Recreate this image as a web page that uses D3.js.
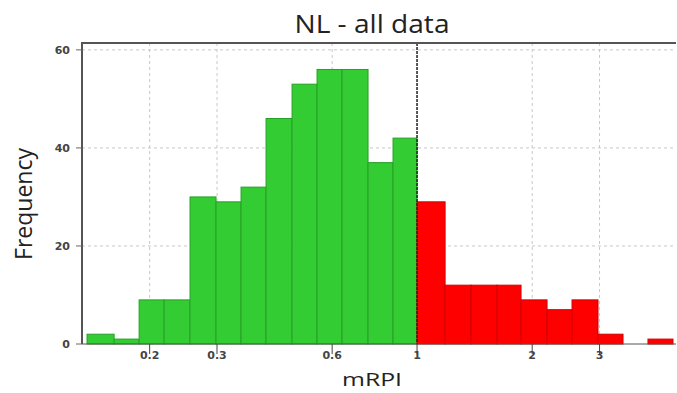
<!DOCTYPE html>
<html lang="en">
<head>
  <meta charset="UTF-8">
  <title>NL - all data</title>
  <script src="https://d3js.org/d3.v7.min.js"></script>
  <style>
    body {
      margin: 0;
      background: #fff;
      font-family: "Open Sans", sans-serif;
    }
    .tick-label {
      font-family: "DejaVu Sans", sans-serif;
      font-size: 11px;
      font-weight: bold;
      fill: #444;
    }
    .grid line {
      stroke: #c8c8c8;
      stroke-dasharray: 3,3;
    }
  </style>
</head>
<body>
  <svg id="chart" width="677" height="393"></svg>

  <script>
    // bin edges (mRPI) and counts per bin
    const binEdges = [0.1372, 0.1615, 0.1877, 0.2182, 0.2550, 0.2982, 0.3467, 0.4030,
                      0.4713, 0.5478, 0.6368, 0.7446, 0.8655, 1.0, 1.184, 1.384, 1.619,
                      1.870, 2.187, 2.542, 2.972, 3.455, 4.015, 4.668];
    const counts = [2, 1, 9, 9, 30, 29, 32, 46, 53, 56, 56, 37, 42,
                    29, 12, 12, 12, 9, 7, 9, 2, 0, 1];
    const xTicks = [0.2, 0.3, 0.6, 1, 2, 3];
    const xTickLabels = ["0.2", "0.3", "0.6", "1", "2", "3"];
    const yTicks = [0, 20, 40, 60];
    const cutoff = 1;

    const svg = d3.select("#chart");
    const margin = {top: 43, right: 1, bottom: 49, left: 82};
    const width = 677 - margin.left - margin.right;
    const height = 393 - margin.top - margin.bottom;

    const g = svg.append("g")
      .attr("transform", `translate(${margin.left},${margin.top})`);

    const x = d3.scaleLog().domain([0.1331, 4.753]).range([0, width]);
    const y = d3.scaleLinear().domain([0, 61.4]).range([height, 0]);

    const bins = counts.map((c, i) => ({x0: binEdges[i], x1: binEdges[i + 1], count: c}));

    // grid
    const grid = g.append("g").attr("class", "grid");
    grid.selectAll(".hg")
      .data(yTicks.filter(d => d > 0))
      .enter().append("line")
      .attr("x1", 0).attr("x2", width)
      .attr("y1", d => y(d)).attr("y2", d => y(d));
    grid.selectAll(".vg")
      .data(xTicks.filter(d => d !== cutoff))
      .enter().append("line")
      .attr("x1", d => x(d)).attr("x2", d => x(d))
      .attr("y1", 0).attr("y2", height);

    // bars
    g.selectAll(".bar")
      .data(bins.filter(d => d.count > 0))
      .enter().append("rect")
      .attr("class", "bar")
      .attr("x", d => x(d.x0))
      .attr("y", d => y(d.count))
      .attr("width", d => x(d.x1) - x(d.x0))
      .attr("height", d => y(0) - y(d.count))
      .attr("fill", d => d.x0 < cutoff ? "#33cc33" : "#ff0000")
      .attr("stroke", d => d.x0 < cutoff ? "#27a027" : "#d00000")
      .attr("stroke-width", 1);

    // cutoff line at 1
    g.append("line")
      .attr("x1", x(cutoff)).attr("x2", x(cutoff))
      .attr("y1", 0).attr("y2", height)
      .attr("stroke", "#222")
      .attr("stroke-width", 1.5)
      .attr("stroke-dasharray", "3,1");

    // frame
    g.append("path")
      .attr("d", `M0,${height}V0H${width}`)
      .attr("fill", "none")
      .attr("stroke", "#555")
      .attr("stroke-width", 2);
    g.append("line")
      .attr("x1", 0).attr("x2", width)
      .attr("y1", height).attr("y2", height)
      .attr("stroke", "#555")
      .attr("stroke-width", 1);

    // y axis
    const yAxis = g.append("g");
    yAxis.selectAll("line")
      .data(yTicks)
      .enter().append("line")
      .attr("x1", -6).attr("x2", 0)
      .attr("y1", d => y(d)).attr("y2", d => y(d))
      .attr("stroke", "#666");
    yAxis.selectAll("text")
      .data(yTicks)
      .enter().append("text")
      .attr("class", "tick-label")
      .attr("x", -12)
      .attr("y", d => y(d))
      .attr("dy", "0.35em")
      .attr("text-anchor", "end")
      .text(d => d);

    // x axis
    const xAxis = g.append("g").attr("transform", `translate(0,${height})`);
    xAxis.selectAll("text")
      .data(xTicks)
      .enter().append("text")
      .attr("class", "tick-label")
      .attr("x", d => x(d))
      .attr("y", 15)
      .attr("text-anchor", "middle")
      .text((d, i) => xTickLabels[i]);
    xAxis.selectAll("line")
      .data(xTicks)
      .enter().append("line")
      .attr("x1", d => x(d)).attr("x2", d => x(d))
      .attr("y1", 0).attr("y2", 10)
      .attr("stroke", "#444");

    // titles
    svg.append("text")
      .attr("x", 372)
      .attr("y", 33)
      .attr("text-anchor", "middle")
      .attr("font-size", 25)
      .attr("textLength", 155)
      .attr("lengthAdjust", "spacingAndGlyphs")
      .attr("fill", "#222")
      .text("NL - all data");

    svg.append("text")
      .attr("x", 372)
      .attr("y", 386)
      .attr("text-anchor", "middle")
      .attr("font-size", 19)
      .attr("textLength", 60)
      .attr("lengthAdjust", "spacingAndGlyphs")
      .attr("fill", "#222")
      .text("mRPI");

    svg.append("text")
      .attr("transform", "translate(32,204) rotate(-90)")
      .attr("text-anchor", "middle")
      .attr("font-size", 23)
      .attr("textLength", 112)
      .attr("lengthAdjust", "spacingAndGlyphs")
      .attr("fill", "#222")
      .text("Frequency");
  </script>
</body>
</html>
